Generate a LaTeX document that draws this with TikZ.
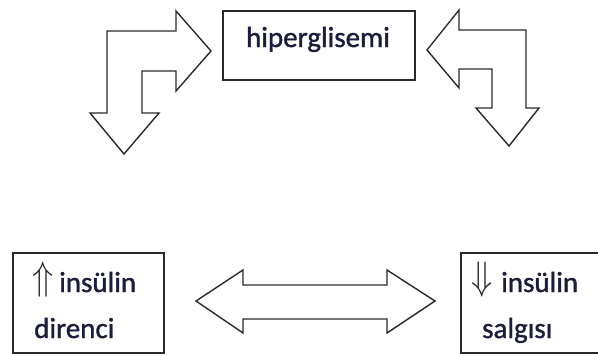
\documentclass[tikz,border=0pt]{standalone}
\usepackage{fontspec}
\setmainfont{Carlito}[FakeBold=1.2]
\definecolor{txt}{HTML}{1C1C3C}
\definecolor{ln}{HTML}{2A2A2A}
\begin{document}
\begin{tikzpicture}[x=1pt,y=-1pt,
  shapeline/.style={draw=ln,line width=1.4pt,line join=miter,fill=white},
  boxline/.style={draw=ln,line width=1.4pt},
  lbl/.style={inner sep=0pt,text=txt,font=\fontsize{29}{33}\selectfont,anchor=base west},
  sym/.style={inner sep=0pt,text=ln,font=\fontsize{29}{33}\selectfont,anchor=base west}]
\useasboundingbox (0,0) rectangle (598,356);
% top box
\draw[boxline] (223,11) rectangle (415,80);
\node[lbl,anchor=base] (hip) at (318,47) {hiperglisemi};
% left bent arrow
\draw[shapeline] (107,113) -- (107,31) -- (176,31) -- (176,11) -- (211,51) -- (176,91) -- (176,71)
  -- (142,71) -- (142,113) -- (159,113) -- (124,154) -- (90,113) -- cycle;
% right bent arrow
\draw[shapeline] (526,108) -- (526,30) -- (459,30) -- (459,10) -- (427,50) -- (459,88) -- (459,69)
  -- (492,69) -- (492,108) -- (476,108) -- (509,146) -- (539,108) -- cycle;
% bottom left box
\draw[boxline] (13,253) -- (164,253) -- (164,353) -- (13,353) -- cycle;
\node[sym] (a1) at (32,289) {\scalebox{1.4}[1.6]{$\Uparrow$}};
\node[lbl] (t1) at (59,292) {insülin};
\node[lbl] (t2) at (34,338) {direnci};
% bottom right box (cut at right edge)
\draw[boxline] (600,253) -- (461,253) -- (461,353) -- (600,353);
\node[sym] (a2) at (471,289) {\scalebox{1.4}[1.6]{$\Downarrow$}};
\node[lbl] (t3) at (501,292) {insülin};
\node[lbl] (t4) at (482,338) {salgısı};
% double arrow
\draw[shapeline] (196,301) -- (243,270) -- (243,285) -- (387,285) -- (387,270) -- (435,301)
  -- (387,333) -- (387,319) -- (243,319) -- (243,333) -- cycle;
\end{tikzpicture}
\end{document}
